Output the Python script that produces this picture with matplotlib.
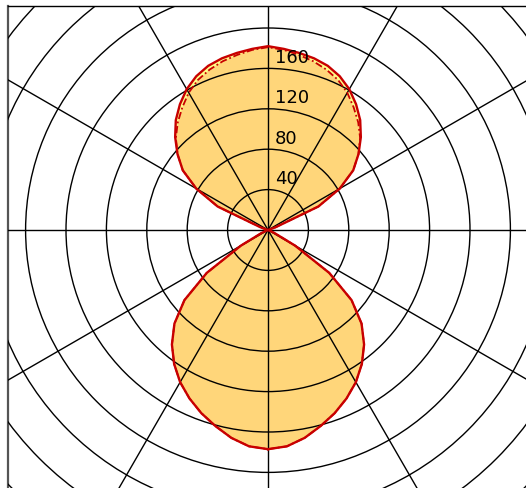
import numpy as np
import matplotlib
matplotlib.use("Agg")
import matplotlib.pyplot as plt
from matplotlib.patches import Circle

# angles in degrees measured from straight down (0) to straight up (180)
angles = [0, 5, 10, 15, 20, 25, 30, 35, 40, 45, 50, 55, 60, 65, 70, 75, 80, 85, 90,
          95, 100, 105, 110, 115, 120, 125, 130, 135, 140, 145, 150, 155, 160, 165,
          170, 175, 180]

# C0-C180 plane (solid)
plane_a = [217, 215, 209, 201, 193, 184, 174, 162, 148, 131, 108, 74, 31, 7, 1, 0, 0, 0, 0,
           0, 0, 1, 8, 55, 82, 103, 117, 130, 142, 152, 161, 168, 173, 176,
           178, 180, 182]
# C90-C270 plane (dash-dot)
plane_b = [217, 215, 209, 201, 193, 184, 174, 162, 148, 131, 108, 74, 31, 7, 1, 0, 0, 0, 0,
           0, 0, 1, 8, 55, 82, 103, 117, 129, 139, 148, 157, 164, 169, 173,
           176, 179, 181]

grid_radii = [40, 80, 120, 160, 200, 240, 280, 320, 360, 400]
label_radii = [40, 80, 120, 160]
spoke_angles = [0, 30, 60, 90, 120, 150]


def to_xy(ang, r):
    # mirror the half curve so the lobe is drawn on both sides
    ang = np.radians(np.concatenate([ang, -np.asarray(ang)[::-1]]))
    r = np.concatenate([r, np.asarray(r)[::-1]])
    return r * np.sin(ang), -r * np.cos(ang)


s = 1.01  # pixels per candela unit
cx, cy = 268, 230

fig = plt.figure(figsize=(5.26, 4.88), dpi=100)
ax = fig.add_axes([7.5 / 526, 0, 518.5 / 526, 482 / 488])
ax.set_xlim((7.5 - cx) / s, (526 - cx) / s)
ax.set_ylim((cy - 488) / s, (cy - 6) / s)
ax.set_aspect("auto")
ax.set_xticks([])
ax.set_yticks([])
ax.spines["right"].set_visible(False)
ax.spines["bottom"].set_visible(False)
ax.spines["left"].set_color("#555555")
ax.spines["left"].set_linewidth(1.6)
ax.spines["top"].set_color("black")
ax.spines["top"].set_linewidth(1.0)

xa, ya = to_xy(angles, plane_a)
xb, yb = to_xy(angles, plane_b)

# fills
ax.fill(xa, ya, color="#FFFF88", lw=0, zorder=1)
ax.fill(xb, yb, color="#FFD67A", lw=0, zorder=2)

# polar grid
for r in grid_radii:
    ax.add_patch(Circle((0, 0), r, fill=False, ec="black", lw=1.0, zorder=3))
for a in spoke_angles:
    t = np.radians(a)
    ax.plot([-500 * np.sin(t), 500 * np.sin(t)], [-500 * np.cos(t), 500 * np.cos(t)],
            color="black", lw=1.0, zorder=3)

# outlines
ax.plot(xb, yb, color="#C80000", lw=1.3, dashes=[4, 1.5, 1, 1.5], zorder=4)
ax.plot(xa, ya, color="#C80000", lw=1.7, zorder=5)

for r in label_radii:
    ax.text(6.5, r + 5.5, str(r), fontsize=13, ha="left", va="baseline", zorder=6)

fig.savefig("out.png", dpi=100)
